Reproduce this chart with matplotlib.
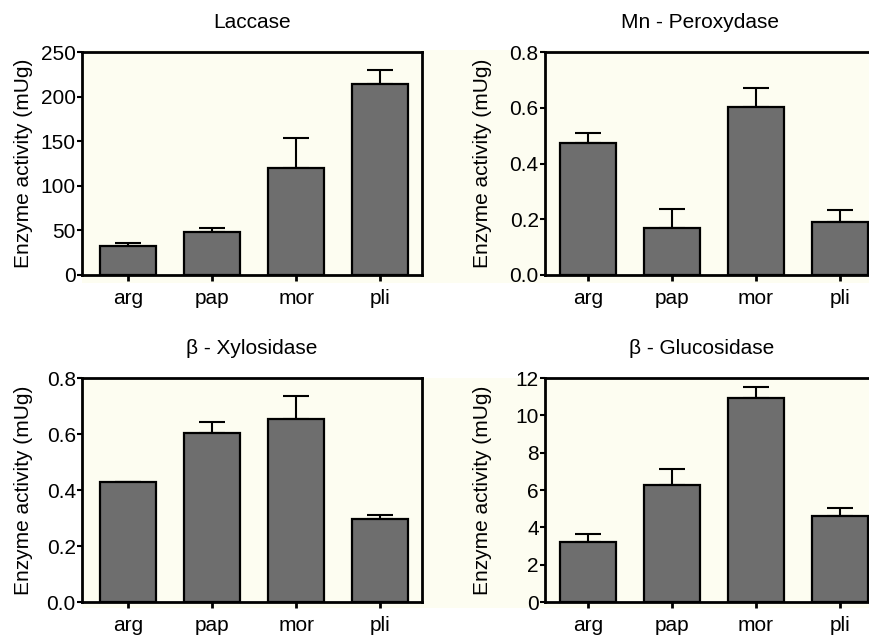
import matplotlib
matplotlib.use("Agg")
import matplotlib.pyplot as plt
from matplotlib.patches import Rectangle
import numpy as np

plt.rcParams["font.family"] = ["Liberation Sans", "DejaVu Sans"]

W, H = 869, 635

categories = ["arg", "pap", "mor", "pli"]

laccase = [32.8, 48.5, 119.5, 214]
laccase_err = [3.2, 4.5, 34.5, 16]

mnp = [0.474, 0.167, 0.603, 0.191]
mnp_err = [0.037, 0.069, 0.067, 0.042]

xylo = [0.427, 0.605, 0.653, 0.297]
xylo_err = [0.0, 0.037, 0.082, 0.012]

gluco = [3.22, 6.29, 10.91, 4.62]
gluco_err = [0.42, 0.82, 0.59, 0.39]

CREAM = "#FDFDF1"
BAR = "#6E6E6E"


def px(x0, y0, x1, y1):
    """pixel box (top-left origin) -> figure fraction rect"""
    return [x0 / W, 1 - y1 / H, (x1 - x0) / W, (y1 - y0) / H]


fig = plt.figure(figsize=(W / 100, H / 100), dpi=100)

# cream backdrop behind the plot areas
for (x0, y0, x1, y1) in [(82, 50, 869, 283), (82, 378, 869, 608)]:
    r = px(x0, y0, x1, y1)
    fig.patches.append(Rectangle((r[0], r[1]), r[2], r[3], transform=fig.transFigure,
                                 facecolor=CREAM, edgecolor="none", zorder=-10))

panels = [
    ("Laccase", laccase, laccase_err, (82, 52, 422, 275), (-0.55, 3.5), (0, 250), np.arange(0, 251, 50), "{:.0f}", (252, 23), -0.145),
    ("Mn - Peroxydase", mnp, mnp_err, (545, 52, 885, 275), (-0.51, 3.54), (0, 0.8), np.arange(0, 0.81, 0.2), "{:.1f}", (700, 23), -0.156),
    ("\u03b2 - Xylosidase", xylo, xylo_err, (82, 378, 422, 602), (-0.55, 3.5), (0, 0.8), np.arange(0, 0.81, 0.2), "{:.1f}", (252, 349), -0.145),
    ("\u03b2 - Glucosidase", gluco, gluco_err, (545, 378, 885, 602), (-0.51, 3.54), (0, 12), np.arange(0, 13, 2), "{:.0f}", (702, 349), -0.156),
]

x = np.arange(len(categories))
for title, vals, errs, box, xl, yl, yt, fmt, tpos, ylab_x in panels:
    ax = fig.add_axes(px(*box))
    ax.set_facecolor("none")
    ax.errorbar(x, vals, yerr=[np.zeros(len(errs)), errs], fmt="none", ecolor="black",
                elinewidth=1.5, capsize=9.7, capthick=1.5, zorder=1)
    ax.bar(x, vals, width=0.67, color=BAR, edgecolor="black", linewidth=1.6, zorder=2)
    ax.set_xlim(*xl)
    ax.set_ylim(*yl)
    ax.set_xticks(x)
    ax.set_xticklabels(categories, fontsize=15)
    ax.set_yticks(yt)
    ax.set_yticklabels([fmt.format(v) for v in yt], fontsize=15)
    ax.tick_params(axis="y", direction="out", length=3.5, width=1.5, pad=1)
    ax.tick_params(axis="x", direction="out", length=4, width=2, pad=6)
    for s in ax.spines.values():
        s.set_linewidth(2)
    ax.set_ylabel("Enzyme activity (mUg)", fontsize=15)
    ax.yaxis.set_label_coords(ylab_x, 0.5)
    fig.text(tpos[0] / W, 1 - tpos[1] / H, title, fontsize=15, ha="center", va="center")

fig.savefig("out.png", dpi=100)
